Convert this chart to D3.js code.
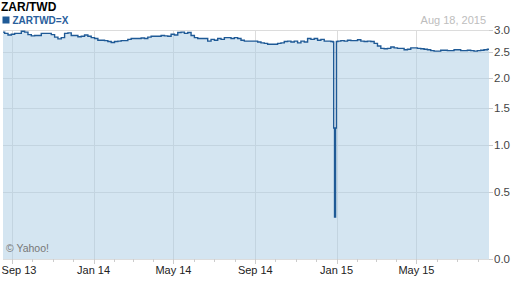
<!DOCTYPE html>
<html>
<head>
<meta charset="utf-8">
<script src="https://cdn.jsdelivr.net/npm/d3@7"></script>
<style>
  html, body { margin: 0; padding: 0; background: #fff; }
  svg { display: block; font-family: Arial, "Liberation Sans", sans-serif; }
</style>
</head>
<body>
<div id="chart"></div>
<script>
const width = 512, height = 288;

// ZAR/TWD, one reading every 5 days from Aug 18 2013 to Aug 18 2015
const startDate = new Date(2013, 7, 18);
const endDate = new Date(2015, 7, 18);
const values = [
  2.95, 2.92, 2.88, 2.90, 2.92, 2.92, 2.97, 2.95, 2.89, 2.86,
  2.87, 2.87, 2.92, 2.92, 2.92, 2.89, 2.83, 2.79, 2.82, 2.92,
  2.93, 2.87, 2.87, 2.84, 2.85, 2.88, 2.85, 2.82, 2.80, 2.76,
  2.76, 2.75, 2.73, 2.71, 2.73, 2.74, 2.75, 2.75, 2.78, 2.80,
  2.80, 2.80, 2.81, 2.80, 2.83, 2.85, 2.85, 2.85, 2.87, 2.86,
  2.85, 2.90, 2.88, 2.94, 2.95, 2.92, 2.94, 2.87, 2.82, 2.80,
  2.80, 2.80, 2.74, 2.78, 2.76, 2.80, 2.78, 2.82, 2.82, 2.80,
  2.82, 2.80, 2.76, 2.74, 2.74, 2.74, 2.74, 2.72, 2.70, 2.69,
  2.67, 2.67, 2.67, 2.69, 2.70, 2.73, 2.74, 2.72, 2.74, 2.70,
  2.74, 2.72, 2.80, 2.78, 2.80, 2.76, 2.78, 2.74, 2.74, 2.73,
  1.21, 2.74, 2.75, 2.74, 2.76, 2.75, 2.75, 2.77, 2.74, 2.73,
  2.74, 2.73, 2.69, 2.63, 2.58, 2.57, 2.58, 2.61, 2.59, 2.58,
  2.58, 2.55, 2.56, 2.59, 2.59, 2.58, 2.57, 2.56, 2.55, 2.53,
  2.52, 2.52, 2.54, 2.54, 2.53, 2.53, 2.55, 2.55, 2.53, 2.53,
  2.54, 2.53, 2.52, 2.53, 2.54, 2.55, 2.56
];
// bad ticks around new year 2015
const spikeDates = ["2014-12-27T12:00", "2014-12-28T00:00", "2014-12-30T00:00", "2014-12-31T12:00", "2015-01-01T00:00"];
const spikeValues = [2.72, 1.21, 0.29, 1.21, 2.73];

const yTicks = [0, 0.5, 1.0, 1.5, 2.0, 2.5, 3.0];

const lineColor = "#1f5a96";

const dates = d3.timeDay.range(startDate, d3.timeDay.offset(endDate, 1), 5);
let data = dates.map((d, i) => ({ date: d, value: values[i] }));
spikeDates.forEach((s, i) => data.push({ date: new Date(s), value: spikeValues[i] }));
data.sort((a, b) => a.date - b.date);

const plot = { left: 3, right: 489, top: 30, bottom: 259 };

const x = d3.scaleTime()
  .domain([startDate, endDate])
  .range([plot.left, plot.right]);

// yahoo's compressed scale, log(1 + v)
const y = d3.scaleSymlog()
  .constant(1)
  .domain([0, 3])
  .range([plot.bottom, plot.top]);

const svg = d3.select("#chart").append("svg")
  .attr("width", width)
  .attr("height", height);

// grid (under the translucent fill)
svg.append("g")
  .selectAll("line")
  .data(yTicks)
  .join("line")
  .attr("x1", plot.left)
  .attr("x2", plot.right)
  .attr("y1", d => Math.round(y(d)) + 0.5)
  .attr("y2", d => Math.round(y(d)) + 0.5)
  .attr("stroke", "#dcdcdc");

const majorMonths = d3.timeMonth.range(startDate, endDate)
  .filter(d => [0, 4, 8].includes(d.getMonth()));
const minorMonths = d3.timeMonth.range(startDate, endDate);

svg.append("g")
  .selectAll("line")
  .data(majorMonths)
  .join("line")
  .attr("x1", d => Math.round(x(d)) + 0.5)
  .attr("x2", d => Math.round(x(d)) + 0.5)
  .attr("y1", plot.top)
  .attr("y2", plot.bottom)
  .attr("stroke", "#dcdcdc");

const area = d3.area()
  .curve(d3.curveStep)
  .x(d => x(d.date))
  .y0(y(0))
  .y1(d => y(d.value));

svg.append("path")
  .datum(data)
  .attr("d", area)
  .attr("fill", "#a9cbe3")
  .attr("fill-opacity", 0.5);

const line = d3.line()
  .curve(d3.curveStep)
  .x(d => x(d.date))
  .y(d => y(d.value));

svg.append("path")
  .datum(data)
  .attr("d", line)
  .attr("fill", "none")
  .attr("stroke", lineColor)
  .attr("stroke-width", 1.4);

// y axis on the right
const yAxis = svg.append("g");
yAxis.selectAll("line")
  .data(yTicks)
  .join("line")
  .attr("x1", plot.right)
  .attr("x2", plot.right + 4)
  .attr("y1", d => Math.round(y(d)) + 0.5)
  .attr("y2", d => Math.round(y(d)) + 0.5)
  .attr("stroke", "#cccccc");
yAxis.selectAll("text")
  .data(yTicks)
  .join("text")
  .attr("x", plot.right + 5)
  .attr("y", d => y(d))
  .attr("dy", "0.35em")
  .attr("font-size", 11.5)
  .attr("fill", "#444")
  .text(d => d.toFixed(1));

// x axis: monthly minor ticks, labels every 4 months
const xAxis = svg.append("g");
xAxis.selectAll("line.minor")
  .data(minorMonths)
  .join("line")
  .attr("class", "minor")
  .attr("x1", d => Math.round(x(d)) + 0.5)
  .attr("x2", d => Math.round(x(d)) + 0.5)
  .attr("y1", plot.bottom)
  .attr("y2", plot.bottom + 3)
  .attr("stroke", "#cccccc");
xAxis.selectAll("line.major")
  .data(majorMonths)
  .join("line")
  .attr("class", "major")
  .attr("x1", d => Math.round(x(d)) + 0.5)
  .attr("x2", d => Math.round(x(d)) + 0.5)
  .attr("y1", plot.bottom)
  .attr("y2", plot.bottom + 5)
  .attr("stroke", "#cccccc");
const fmt = d3.timeFormat("%b %y");
xAxis.selectAll("text")
  .data(majorMonths)
  .join("text")
  .attr("x", d => Math.max(x(d), 19))
  .attr("y", 274)
  .attr("text-anchor", "middle")
  .attr("font-size", 11)
  .attr("fill", "#222")
  .text(d => fmt(d));

// header
svg.append("text")
  .attr("x", 1)
  .attr("y", 11)
  .attr("font-size", 12)
  .attr("font-weight", "bold")
  .attr("fill", "#000")
  .text("ZAR/TWD");

svg.append("rect")
  .attr("x", 2.5)
  .attr("y", 16.5)
  .attr("width", 7)
  .attr("height", 7)
  .attr("fill", lineColor);

svg.append("text")
  .attr("x", 12.5)
  .attr("y", 23.5)
  .attr("font-size", 10)
  .attr("font-weight", "bold")
  .attr("fill", "#2a609c")
  .text("ZARTWD=X");

svg.append("text")
  .attr("x", 486)
  .attr("y", 24)
  .attr("text-anchor", "end")
  .attr("font-size", 11)
  .attr("fill", "#bdbdbd")
  .text("Aug 18, 2015");

svg.append("text")
  .attr("x", 6)
  .attr("y", 252)
  .attr("font-size", 10.5)
  .attr("fill", "#777")
  .text("© Yahoo!");
</script>
</body>
</html>
